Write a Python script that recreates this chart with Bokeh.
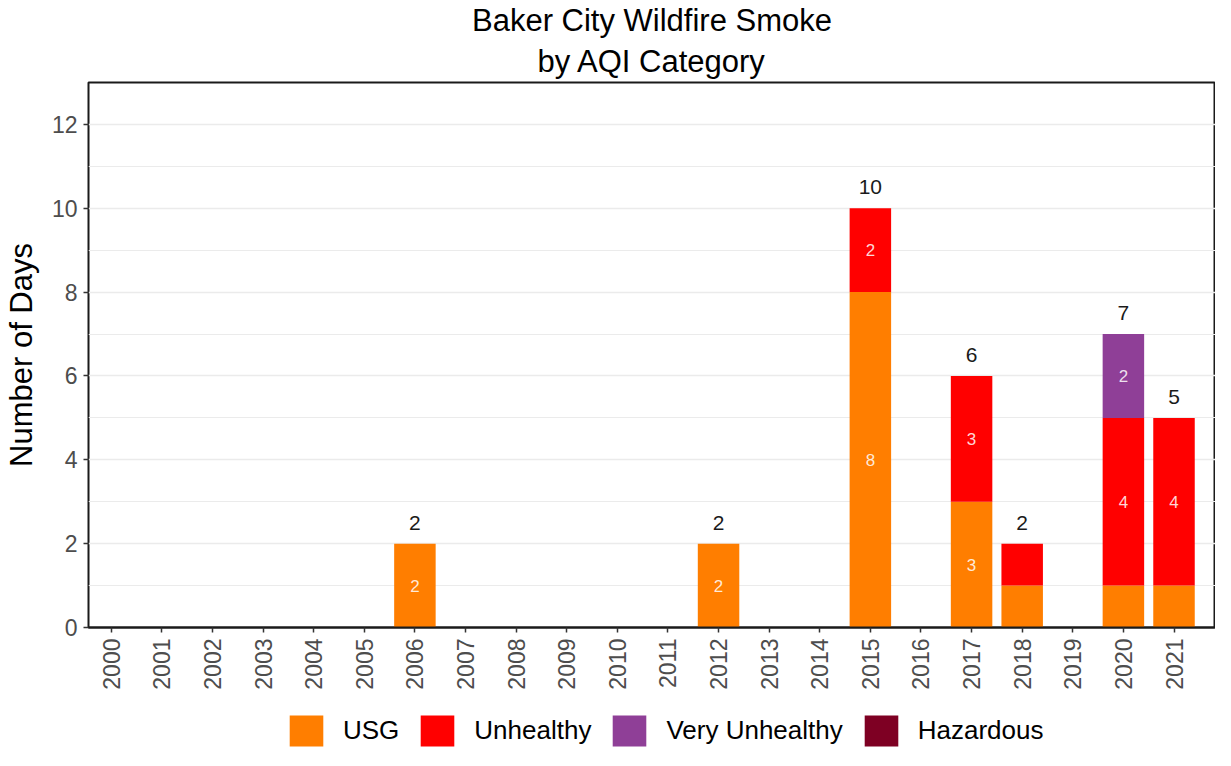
import math
from bokeh.plotting import figure
from bokeh.layouts import column
from bokeh.models import ColumnDataSource, Range1d, FixedTicker, Legend, LegendItem, Title
from bokeh.embed import file_html
from bokeh.resources import INLINE
from bokeh.core.properties import value

# ---- data ----
years = [str(y) for y in range(2000, 2022)]
usg = [0, 0, 0, 0, 0, 0, 2, 0, 0, 0, 0, 0, 2, 0, 0, 8, 0, 3, 1, 0, 1, 1]
unhealthy = [0, 0, 0, 0, 0, 0, 0, 0, 0, 0, 0, 0, 0, 0, 0, 2, 0, 3, 1, 0, 4, 4]
very_unhealthy = [0, 0, 0, 0, 0, 0, 0, 0, 0, 0, 0, 0, 0, 0, 0, 0, 0, 0, 0, 0, 2, 0]
hazardous = [0] * 22
categories = ["USG", "Unhealthy", "Very Unhealthy", "Hazardous"]
colors = ["#FF7E00", "#FF0000", "#8F3F97", "#7E0023"]
y_ticks = [0, 2, 4, 6, 8, 10, 12]
y_minor = [1, 3, 5, 7, 9, 11, 13]

FONT = "Liberation Sans"

series = [usg, unhealthy, very_unhealthy, hazardous]
xs = list(range(len(years)))
data = {"x": xs}
for c, s in zip(categories, series):
    data[c] = s
src = ColumnDataSource(data)

p = figure(width=1215, height=711, x_range=Range1d(-0.45, 21.82), y_range=Range1d(0, 13),
           output_backend="svg", toolbar_location=None,
           min_border_left=80, min_border_right=0, min_border_top=40, min_border_bottom=84)
p.background_fill_color = "white"
p.border_fill_color = "white"
p.outline_line_color = "#1a1a1a"
p.outline_line_width = 2

renderers = p.vbar_stack(categories, x="x", width=0.82, color=colors, line_color=None, source=src)

# totals above bars
totals = [sum(v) for v in zip(*series)]
tx = [x for x, t in zip(xs, totals) if t > 0]
ty = [t + 0.5 for t in totals if t > 0]
tt = [str(t) for t in totals if t > 0]
p.text(x=tx, y=ty, text=tt, text_align="center", text_baseline="middle",
       text_font=value(FONT), text_font_size="21px", text_color="#1a1a1a")

# inner segment labels
ix, iy, it = [], [], []
bottoms = [0] * len(xs)
for s in series:
    for i, v in enumerate(s):
        if v > 1:
            ix.append(i)
            iy.append(bottoms[i] + v / 2)
            it.append(str(v))
        bottoms[i] += v
p.text(x=ix, y=iy, text=it, text_align="center", text_baseline="middle",
       text_font=value(FONT), text_font_size="17px", text_color="white", text_alpha=0.85)

# axes
p.xaxis.ticker = FixedTicker(ticks=xs)
p.xaxis.major_label_overrides = {i: y for i, y in zip(xs, years)}
p.xaxis.major_label_orientation = math.pi / 2
p.yaxis.ticker = FixedTicker(ticks=y_ticks, minor_ticks=y_minor)
for ax in (p.xaxis[0], p.yaxis[0]):
    ax.major_tick_out = 5
    ax.major_tick_in = 0
    ax.major_tick_line_color = "#333333"
    ax.major_tick_line_width = 1.5
    ax.minor_tick_line_color = None
    ax.major_label_text_font = FONT
    ax.major_label_text_font_size = "23px"
    ax.major_label_text_color = "#4D4D4D"
    ax.major_label_standoff = 6
p.xaxis.axis_line_color = "#1a1a1a"
p.xaxis.axis_line_width = 2
p.yaxis.axis_line_color = None
p.yaxis.axis_label = "Number of Days"
p.yaxis.axis_label_text_font = FONT
p.yaxis.axis_label_text_font_size = "31px"
p.yaxis.axis_label_text_font_style = "normal"
p.yaxis.axis_label_text_color = "black"
p.yaxis.axis_label_standoff = 10

p.xgrid.grid_line_color = None
p.ygrid.grid_line_color = "#EBEBEB"
p.ygrid.grid_line_width = 1.3
p.ygrid.minor_grid_line_color = "#EBEBEB"
p.ygrid.minor_grid_line_width = 1.0

# titles (added title sits closer to the frame)
p.title.text = "Baker City Wildfire Smoke"
p.title.align = "center"
p.title.text_font = FONT
p.title.text_font_size = "31px"
p.title.text_font_style = "normal"
p.title.text_color = "black"
p.title.standoff = 0
p.add_layout(Title(text="by AQI Category", align="center", text_font=FONT, standoff=8,
                   text_font_size="31px", text_font_style="normal", text_color="black"), "above")

# legend strip (separate figure sharing the same data source; its bars are hidden)
lg = figure(width=1215, height=39, x_range=p.x_range, y_range=p.y_range,
            x_axis_type=None, y_axis_type=None,
            output_backend="svg", toolbar_location=None,
            min_border_left=0, min_border_right=0, min_border_top=0, min_border_bottom=0)
lg.grid.grid_line_color = None
lg.outline_line_color = None
lg.background_fill_color = "white"
lg.border_fill_color = "white"
lrs = lg.vbar_stack(categories, x="x", width=0.82, color=colors, line_color=None, source=src)
for r in lrs:
    r.visible = False
legend = Legend(items=[LegendItem(label=c, renderers=[r]) for c, r in zip(categories, lrs)],
                orientation="horizontal", location=(197, 0), glyph_width=42, glyph_height=39,
                label_standoff=16, spacing=17, label_text_font=FONT, label_text_font_size="26px",
                label_text_color="black", border_line_color=None, background_fill_alpha=0,
                inactive_fill_alpha=0, padding=0, margin=0, click_policy="none")
lg.add_layout(legend)

layout = column(p, lg, spacing=0)
open("out.html", "w").write(file_html(layout, INLINE))
